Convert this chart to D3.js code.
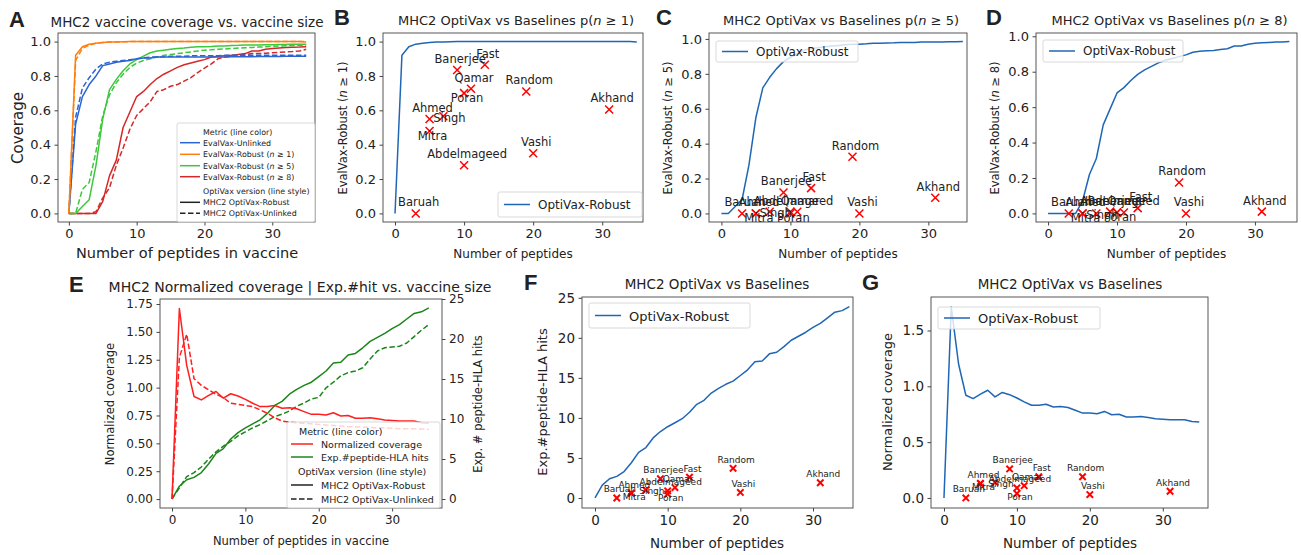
<!DOCTYPE html>
<html>
<head>
<meta charset="utf-8">
<script src="https://cdn.jsdelivr.net/npm/d3@7"></script>
<style>
body { margin: 0; background: #fff; }
svg text { font-family: "DejaVu Sans", sans-serif; fill: #222; }
</style>
</head>
<body>
<div id="chart"></div>
<script>
// ---- data ----
var peptides = [0,1,2,3,4,5,6,7,8,9,10,11,12,13,14,15,16,17,18,19,20,21,22,23,24,25,26,27,28,29,30,31,32,33,34,35];

// panel A, solid = OptiVax-Robust, dashed = OptiVax-Unlinked
var unlinkedRobust = [0,0.52,0.68,0.75,0.80,0.86,0.87,0.88,0.885,0.89,0.90,0.905,0.905,0.91,0.91,0.91,0.91,0.91,0.91,0.91,0.91,0.91,0.91,0.91,0.912,0.912,0.912,0.912,0.913,0.913,0.913,0.913,0.914,0.914,0.914,0.915];
var unlinkedUnl = [0,0.56,0.73,0.79,0.84,0.87,0.88,0.885,0.89,0.895,0.90,0.905,0.91,0.91,0.912,0.915,0.915,0.915,0.917,0.917,0.918,0.918,0.918,0.92,0.92,0.92,0.92,0.92,0.92,0.92,0.92,0.92,0.92,0.92,0.92,0.92];
var n1Robust = [0,0.92,0.97,0.985,0.99,0.995,0.997,0.998,0.999,1,1,1,1,1,1,1,1,1,1,1,1,1,1,1,1,1,1,1,1,1,1,1,1,1,1,0.998];
var n1Unl = [0,0.89,0.96,0.98,0.99,0.995,0.997,0.998,0.999,1,1,1,1,1,1,1,1,1,1,1,1,1,1,1,1,1,1,1,1,1,1,1,1,1,1,1];
var n5Robust = [0,0,0.04,0.08,0.28,0.55,0.72,0.78,0.83,0.87,0.895,0.915,0.935,0.945,0.95,0.955,0.96,0.963,0.967,0.97,0.97,0.972,0.975,0.975,0.977,0.978,0.98,0.98,0.98,0.982,0.982,0.983,0.983,0.984,0.984,0.985];
var n5Unl = [0,0,0.14,0.18,0.36,0.57,0.69,0.76,0.81,0.85,0.875,0.89,0.90,0.91,0.92,0.925,0.93,0.935,0.94,0.945,0.95,0.952,0.955,0.957,0.96,0.962,0.964,0.966,0.968,0.97,0.972,0.974,0.976,0.977,0.978,0.98];
var n8Robust = [0,0,0,0,0,0.07,0.22,0.31,0.50,0.59,0.68,0.71,0.75,0.785,0.81,0.83,0.85,0.865,0.875,0.885,0.895,0.91,0.915,0.918,0.92,0.925,0.93,0.945,0.945,0.955,0.96,0.963,0.965,0.967,0.968,0.97];
var n8Unl = [0,0,0,0,0.01,0.09,0.15,0.28,0.38,0.49,0.57,0.61,0.65,0.71,0.72,0.74,0.75,0.77,0.79,0.82,0.845,0.87,0.90,0.91,0.915,0.92,0.925,0.93,0.93,0.932,0.935,0.937,0.94,0.942,0.945,0.955];

// panel E / F / G
var normRobust = [0,1.71,1.20,0.92,0.89,0.93,0.965,0.905,0.945,0.925,0.895,0.86,0.83,0.83,0.84,0.815,0.82,0.81,0.785,0.76,0.76,0.755,0.775,0.745,0.75,0.725,0.725,0.73,0.72,0.71,0.705,0.70,0.70,0.70,0.685,0.68];
var normUnl = [0,1.27,1.48,1.08,1.02,0.98,0.94,0.91,0.86,0.85,0.84,0.83,0.80,0.77,0.73,0.70,0.69,0.685,0.68,0.675,0.67,0.665,0.66,0.655,0.65,0.648,0.645,0.643,0.64,0.638,0.635,0.632,0.63,0.63,0.628,0.625];
var hitsRobust = [0,1.6,2.4,2.7,3.3,4.4,5.7,6.3,7.5,8.3,8.9,9.4,9.9,10.7,11.7,12.2,13.1,13.7,14.2,14.6,15.3,16.0,17.0,17.1,18.0,18.2,18.9,19.7,20.2,20.7,21.3,21.8,22.5,23.2,23.4,23.9];
var hitsUnl = [0,1.4,2.8,3.3,4.0,5.0,5.9,6.6,7.2,7.9,8.4,8.9,9.3,9.8,10.3,10.6,11.0,11.6,12.0,12.5,12.7,13.9,14.6,15.4,15.8,16.0,16.4,17.5,18.5,18.9,19.0,19.1,19.5,20.3,21.1,21.8];

// baselines
var baseNames = ["Baruah","Ahmed","Mitra","Singh","Banerjee","Poran","Abdelmageed","Qamar","Fast","Random","Vashi","Akhand"];
var baseSizes = [3,5,5,7,9,10,10,11,13,19,20,31];
var baseN1 = [0,0.55,0.48,0.565,0.835,0.70,0.28,0.725,0.865,0.71,0.35,0.605];
var baseN5 = [0,0,0,0.01,0.12,0,0.01,0.01,0.145,0.325,0,0.09];
var baseN8 = [0,0,0,0,0.01,0.005,0.005,0.005,0.03,0.175,0,0.01];
var baseHits = [0,0.6,0.6,1.0,2.4,0.5,0.9,1.3,2.6,3.7,0.7,1.9];
var baseNorm = [0,0.13,0.13,0.14,0.26,0.04,0.09,0.11,0.19,0.19,0.03,0.06];

var yTicks01 = [0,0.2,0.4,0.6,0.8,1.0];
var xTicks = [0,10,20,30];

// ---- setup ----
var svgWidth = 1301, svgHeight = 555;
var svg = d3.select("#chart").append("svg")
    .attr("width", svgWidth)
    .attr("height", svgHeight);

var cBlue = "#2a65d6", cOrange = "#ff7f0e", cGreen = "#3cc83c", cRed = "#d62728";
var optiBlue = "#1f66b6";

function rich(sel, parts) {
    parts.forEach(function(p) {
        var t = sel.append("tspan").text(p[0]);
        if (p[1]) t.style("font-style", "italic");
    });
    return sel;
}

function makePanel(cfg) {
    var x = d3.scaleLinear().domain(cfg.xd).range([cfg.l, cfg.r]);
    var y = d3.scaleLinear().domain(cfg.yd).range([cfg.b, cfg.t]);
    var id = "clip" + cfg.name;
    svg.append("clipPath").attr("id", id).append("rect")
        .attr("x", cfg.l).attr("y", cfg.t)
        .attr("width", cfg.r - cfg.l).attr("height", cfg.b - cfg.t);
    var plot = svg.append("g").attr("clip-path", "url(#" + id + ")");
    return {x: x, y: y, plot: plot, cfg: cfg};
}

function drawFrame(p, yTickVals, yFmt, tickFs) {
    var c = p.cfg;
    svg.append("rect")
        .attr("x", c.l).attr("y", c.t)
        .attr("width", c.r - c.l).attr("height", c.b - c.t)
        .attr("fill", "none").attr("stroke", "#444").attr("stroke-width", 0.9);
    var xa = svg.append("g").attr("transform", "translate(0," + c.b + ")")
        .call(d3.axisBottom(p.x).tickValues(xTicks).tickSize(3.5).tickPadding(3.5).tickFormat(d3.format("d")));
    var ya = svg.append("g").attr("transform", "translate(" + c.l + ",0)")
        .call(d3.axisLeft(p.y).tickValues(yTickVals).tickSize(3.5).tickPadding(3.5).tickFormat(yFmt));
    [xa, ya].forEach(function(a) {
        a.select(".domain").remove();
        a.selectAll("line").attr("stroke", "#444");
        a.selectAll("text").style("font-size", tickFs + "px").attr("fill", "#222");
        a.attr("font-family", null);
    });
}

function drawLine(p, xs, ys, color, dashed, width) {
    var line = d3.line()
        .x(function(d, i) { return p.x(xs[i]); })
        .y(function(d) { return p.y(d); });
    p.plot.append("path")
        .datum(ys)
        .attr("d", line)
        .attr("fill", "none")
        .attr("stroke", color)
        .attr("stroke-width", width || 1.5)
        .attr("stroke-linejoin", "round")
        .attr("stroke-dasharray", dashed ? "5.5,2.5" : null);
}

function drawBaselines(p, vals, fs, ms, sw) {
    var g = p.plot.append("g");
    baseNames.forEach(function(name, i) {
        var cx = p.x(baseSizes[i]), cy = p.y(vals[i]);
        g.append("path")
            .attr("d", "M" + (cx - ms) + "," + (cy - ms) + "L" + (cx + ms) + "," + (cy + ms) +
                       "M" + (cx - ms) + "," + (cy + ms) + "L" + (cx + ms) + "," + (cy - ms))
            .attr("stroke", "#ff0000").attr("stroke-width", sw);
    });
    var gl = svg.append("g");
    baseNames.forEach(function(name, i) {
        var cx = p.x(baseSizes[i]), cy = p.y(vals[i]);
        var dx = 3, dy = -fs * 0.62;
        if (name === "Mitra" || name === "Poran") dy = fs * 0.75;
        if (name === "Singh") { dx = 6; dy = fs * 0.5; }
        gl.append("text")
            .attr("x", cx + dx).attr("y", cy + dy)
            .attr("text-anchor", "middle")
            .style("font-size", fs + "px")
            .text(name);
    });
}

function titleText(x, y, fs, parts) {
    rich(svg.append("text").attr("x", x).attr("y", y).attr("text-anchor", "middle").style("font-size", fs + "px"), parts);
}
function yLabel(x, y, fs, parts) {
    rich(svg.append("text")
        .attr("transform", "translate(" + x + "," + y + ") rotate(-90)")
        .attr("text-anchor", "middle").attr("dominant-baseline", "central")
        .style("font-size", fs + "px"), parts);
}
function panelLetter(x, y, s) {
    svg.append("text").attr("x", x).attr("y", y)
        .style("font-family", "'Liberation Sans', Arial, sans-serif")
        .style("font-weight", "bold").style("font-size", "22px")
        .attr("fill", "#000").text(s);
}

function legendBox(x, y, w, h, alpha) {
    svg.append("rect").attr("x", x).attr("y", y).attr("width", w).attr("height", h)
        .attr("rx", 2).attr("fill", "#fff").attr("fill-opacity", alpha)
        .attr("stroke", "#cfcfcf").attr("stroke-width", 0.8);
}
function legendRow(hx0, hx1, tx, y, fs, color, dashed, parts) {
    if (color) {
        svg.append("line").attr("x1", hx0).attr("x2", hx1).attr("y1", y).attr("y2", y)
            .attr("stroke", color).attr("stroke-width", 1.5)
            .attr("stroke-dasharray", dashed ? "5.5,2.5" : null);
    }
    rich(svg.append("text").attr("x", tx).attr("y", y).attr("dominant-baseline", "central")
        .style("font-size", fs + "px"), parts);
}
function simpleLegend(x, y, w, h, fs) {
    legendBox(x, y, w, h, 0.8);
    legendRow(x + 6, x + 32, x + 40, y + h / 2, fs, optiBlue, false, [["OptiVax-Robust"]]);
}

// ---- A ----
var pA = makePanel({name: "A", l: 58, r: 315, t: 33, b: 222, xd: [-1.6, 36.3], yd: [-0.05, 1.05]});
drawLine(pA, peptides, n8Unl, cRed, true);
drawLine(pA, peptides, n8Robust, cRed, false);
drawLine(pA, peptides, n5Unl, cGreen, true);
drawLine(pA, peptides, n5Robust, cGreen, false);
drawLine(pA, peptides, unlinkedUnl, cBlue, true);
drawLine(pA, peptides, unlinkedRobust, cBlue, false);
drawLine(pA, peptides, n1Unl, cOrange, true);
drawLine(pA, peptides, n1Robust, cOrange, false);
drawFrame(pA, yTicks01, d3.format(".1f"), 13);
titleText(187, 27, 13.5, [["MHC2 vaccine coverage vs. vaccine size"]]);
yLabel(18, 128, 15, [["Coverage"]]);
titleText(187, 258, 14.5, [["Number of peptides in vaccine"]]);
panelLetter(9, 27, "A");
var lf = 7.9;
legendBox(177, 123, 138, 99, 0.8);
legendRow(180, 200, 203, 131.7, lf, null, false, [["Metric (line color)"]]);
legendRow(180, 200, 203, 142.7, lf, cBlue, false, [["EvalVax-Unlinked"]]);
legendRow(180, 200, 203, 154.3, lf, cOrange, false, [["EvalVax-Robust ("], ["n", true], [" \u2265 1)"]]);
legendRow(180, 200, 203, 165.7, lf, cGreen, false, [["EvalVax-Robust ("], ["n", true], [" \u2265 5)"]]);
legendRow(180, 200, 203, 176.7, lf, cRed, false, [["EvalVax-Robust ("], ["n", true], [" \u2265 8)"]]);
legendRow(180, 200, 203, 190.5, lf, null, false, [["OptiVax version (line style)"]]);
legendRow(180, 200, 203, 202.3, lf, "#222", false, [["MHC2 OptiVax-Robust"]]);
legendRow(180, 200, 203, 213.3, lf, "#222", true, [["MHC2 OptiVax-Unlinked"]]);

// ---- B, C, D ----
var scatterSpecs = [
    {name: "B", l: 383, r: 643, xd: [-1.74, 35.9], yd: [-0.05, 1.05], curve: n1Robust, base: baseN1, k: "1", lx: 343, letterX: 334, leg: [498, 192, 144, 25]},
    {name: "C", l: 709, r: 967, xd: [-1.8, 35.6], yd: [-0.049, 1.034], curve: n5Robust, base: baseN5, k: "5", lx: 668, letterX: 656, leg: [716, 41, 142, 21]},
    {name: "D", l: 1036, r: 1297, xd: [-1.75, 36.1], yd: [-0.0485, 1.0185], curve: n8Robust, base: baseN8, k: "8", lx: 995, letterX: 986, leg: [1043, 40, 140, 22]}
];
scatterSpecs.forEach(function(s) {
    var p = makePanel({name: s.name, l: s.l, r: s.r, t: 33, b: 222, xd: s.xd, yd: s.yd});
    drawLine(p, peptides, s.curve, optiBlue, false);
    drawBaselines(p, s.base, 11.5, 4, 1.5);
    drawFrame(p, yTicks01, d3.format(".1f"), 13);
    var cx = (s.l + s.r) / 2;
    titleText(cx + 3, 25, 13, [["MHC2 OptiVax vs Baselines p("], ["n", true], [" \u2265 " + s.k + ")"]]);
    yLabel(s.lx, 128, 11.5, [["EvalVax-Robust ("], ["n", true], [" \u2265 " + s.k + ")"]]);
    titleText(cx, 258, 12, [["Number of peptides"]]);
    panelLetter(s.letterX, 25, s.name);
    simpleLegend(s.leg[0], s.leg[1], s.leg[2], s.leg[3], 12);
});

// ---- E ----
var pE = makePanel({name: "E", l: 160, r: 442, t: 299, b: 508, xd: [-1.64, 36.8], yd: [-0.08, 1.795]});
var yE2 = d3.scaleLinear().domain([-1.125, 25]).range([508, 299]);
var pE2 = {x: pE.x, y: yE2, plot: pE.plot};
drawLine(pE2, peptides, hitsUnl, "#1a861a", true);
drawLine(pE2, peptides, hitsRobust, "#1a861a", false);
drawLine(pE, peptides, normUnl, "#ff1f1f", true);
drawLine(pE, peptides, normRobust, "#ff1f1f", false);
drawFrame(pE, [0, 0.25, 0.5, 0.75, 1.0, 1.25, 1.5, 1.75], d3.format(".2f"), 12);
var ra = svg.append("g").attr("transform", "translate(442,0)")
    .call(d3.axisRight(yE2).tickValues([0, 5, 10, 15, 20, 25]).tickSize(3.5).tickPadding(3.5));
ra.select(".domain").remove();
ra.selectAll("line").attr("stroke", "#444");
ra.selectAll("text").style("font-size", "12px").attr("fill", "#222");
ra.attr("font-family", null);
titleText(300, 292, 14, [["MHC2 Normalized coverage | Exp.#hit vs. vaccine size"]]);
yLabel(110, 404, 11.5, [["Normalized coverage"]]);
yLabel(478, 404, 11.5, [["Exp. # peptide-HLA hits"]]);
titleText(301, 545, 11.5, [["Number of peptides in vaccine"]]);
panelLetter(69, 292, "E");
legendBox(287, 422, 153, 86, 0.8);
legendRow(291, 313, 299, 431, 9.5, null, false, [["Metric (line color)"]]);
legendRow(291, 313, 321, 444, 9.5, "#ff1f1f", false, [["Normalized coverage"]]);
legendRow(291, 313, 321, 457, 9.5, "#1a861a", false, [["Exp.#peptide-HLA hits"]]);
legendRow(291, 313, 298, 471, 9.5, null, false, [["OptiVax version (line style)"]]);
legendRow(291, 313, 321, 485, 9.5, "#222", false, [["MHC2 OptiVax-Robust"]]);
legendRow(291, 313, 321, 499, 9.5, "#222", true, [["MHC2 OptiVax-Unlinked"]]);

// ---- F ----
var pF = makePanel({name: "F", l: 582, r: 853, t: 297, b: 508, xd: [-1.79, 35.5], yd: [-1.25, 25.1]});
drawLine(pF, peptides, hitsRobust, optiBlue, false);
drawBaselines(pF, baseHits, 9, 3.2, 2);
drawFrame(pF, [0, 5, 10, 15, 20, 25], d3.format("d"), 13.5);
titleText(717, 289, 13.5, [["MHC2 OptiVax vs Baselines"]]);
yLabel(542, 402, 13, [["Exp.#peptide-HLA hits"]]);
titleText(717, 548, 13.5, [["Number of peptides"]]);
panelLetter(524, 290, "F");
simpleLegend(589, 303, 161, 25, 13);

// ---- G ----
var pG = makePanel({name: "G", l: 931, r: 1208, t: 297, b: 508, xd: [-1.78, 36.2], yd: [-0.09, 1.8]});
drawLine(pG, peptides, normRobust, optiBlue, false);
drawBaselines(pG, baseNorm, 9, 3.2, 2);
drawFrame(pG, [0, 0.5, 1.0, 1.5], d3.format(".1f"), 13.5);
titleText(1070, 289, 13.5, [["MHC2 OptiVax vs Baselines"]]);
yLabel(887, 402, 13, [["Normalized coverage"]]);
titleText(1070, 548, 13.5, [["Number of peptides"]]);
panelLetter(862, 290, "G");
simpleLegend(938, 307, 162, 22, 13);
</script>
</body>
</html>
